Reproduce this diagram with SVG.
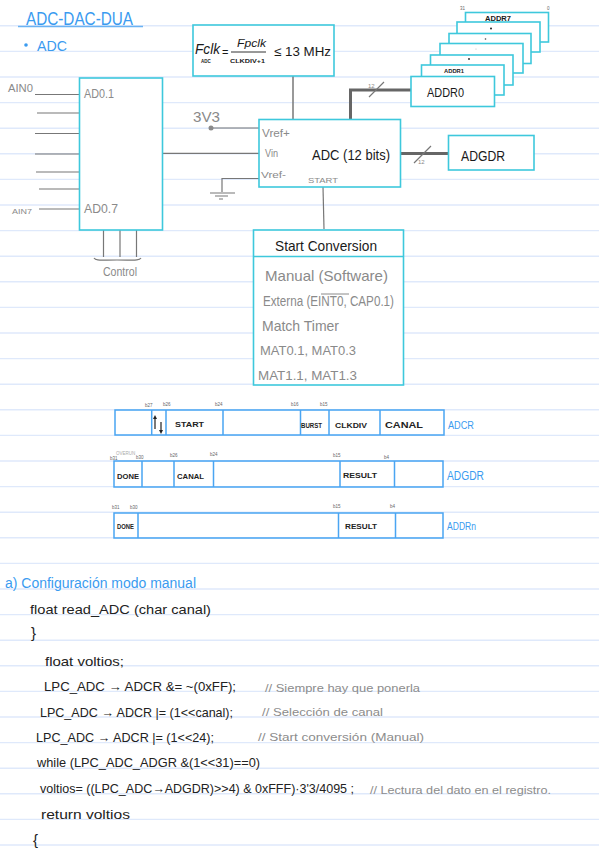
<svg xmlns="http://www.w3.org/2000/svg" width="599" height="848" viewBox="0 0 599 848">
<style>
text{font-family:"Liberation Sans",Arial,sans-serif;font-size:13px;fill:#1a1a1a}
.rule{stroke:#dfe9fb;stroke-width:1.4;fill:none}
.box{fill:#fff;stroke:#3ec8dc;stroke-width:1.6}
.reg{fill:none;stroke:#4aa5f2;stroke-width:1.5}
.w{stroke:#777;stroke-width:1.2;fill:none}
.t{stroke:#666;stroke-width:3;fill:none}
.g{fill:#8a8a8a}
.b{fill:#3a9bf0}
.s{font-size:7px;font-weight:bold;fill:#222}
.n{font-size:4.5px;fill:#666}
.c{font-size:13px;fill:#222}
.k{font-size:11px;fill:#8c8c8c}
</style>
<rect width="599" height="848" fill="#fff"/>
<g id="rules">
<path class="rule" d="M0 25.8H599M0 51.4H599M0 77H599M0 102.6H599M0 128.2H599M0 153.8H599M0 179.4H599M0 205H599M0 230.6H599M0 256.2H599M0 281.8H599M0 307.4H599M0 333H599M0 358.6H599M0 384.2H599M0 409.8H599M0 435.4H599M0 461H599M0 486.6H599M0 512.2H599M0 537.8H599M0 563.4H599M0 589H599M0 614.6H599M0 640.2H599M0 665.8H599M0 691.4H599M0 717H599M0 742.6H599M0 768.2H599M0 793.8H599M0 819.4H599M0 845H599"/>
</g>
<g id="heading">
<text class="b" x="26" y="25" style="font-size:18px" textLength="107" lengthAdjust="spacingAndGlyphs">ADC-DAC-DUA</text>
<path d="M18 26.5H143" stroke="#6ab2f3" stroke-width="1.5"/>
<circle cx="26" cy="45" r="1.8" fill="#3a9bf0"/>
<text class="b" x="37" y="51" style="font-size:15px" textLength="30" lengthAdjust="spacingAndGlyphs">ADC</text>
</g>
<g id="connectors">
<path class="w" d="M35 94.5H80M37 113H80M35 133.5H80M35 154H80M36 172H80M39 189H80M39 209H80"/>
<path class="w" d="M103.500 230V257M120 230V257M136.500 230V257"/>
<path class="w" d="M94 258C96 261 100 260 117 260C134 260 139 261 141 258"/>
<path class="w" d="M162 153.300H260"/>
<path class="w" d="M211 128H259"/>
<path class="w" d="M259 178.500H222V192M210 193H235M215 196H228M219 199H223"/>
<path class="w" style="stroke-width:1.5" d="M293 76V119"/>
<path class="w" d="M323 187L324 229"/>
<path class="t" d="M350.500 119V90H411"/>
<path class="t" d="M400 153.500H448"/>
<path class="w" d="M369 97L384 82M414 163L431 146"/>
<circle cx="211" cy="128" r="2.500" fill="#8a8a8a"/>
</g>
<g id="mux">
<rect class="box" x="79.500" y="78" width="83" height="152"/>
<text class="g" x="84" y="98" textLength="30" lengthAdjust="spacingAndGlyphs">AD0.1</text>
<text class="g" x="84" y="213" textLength="34" lengthAdjust="spacingAndGlyphs">AD0.7</text>
<text class="g" x="8" y="92" style="font-size:11px" textLength="25" lengthAdjust="spacingAndGlyphs">AIN0</text>
<text class="g" x="12" y="214" style="font-size:8px" textLength="20" lengthAdjust="spacingAndGlyphs">AIN7</text>
<text class="g" x="103" y="276" style="font-size:12px" textLength="34" lengthAdjust="spacingAndGlyphs">Control</text>
</g>
<g id="formula">
<rect class="box" x="193" y="25" width="141" height="51"/>
<text x="195" y="54" style="font-size:14px;font-style:italic" textLength="25" lengthAdjust="spacingAndGlyphs">Fclk</text>
<text x="201" y="63" style="font-size:4.500px;font-weight:bold">ADC</text>
<text x="222" y="56" style="font-size:11px">=</text>
<text x="237" y="47" style="font-size:11px;font-style:italic" textLength="29" lengthAdjust="spacingAndGlyphs">Fpclk</text>
<path d="M231 52H266" stroke="#333"/>
<text x="230" y="63" style="font-size:6px;font-weight:bold" textLength="35" lengthAdjust="spacingAndGlyphs">CLKDIV+1</text>
<text x="274" y="56" style="font-size:13px" textLength="57" lengthAdjust="spacingAndGlyphs">≤ 13 MHz</text>
</g>
<g id="adc">
<rect class="box" x="259" y="119.500" width="141.500" height="67.500"/>
<text class="g" x="262" y="137" style="font-size:11px" textLength="28" lengthAdjust="spacingAndGlyphs">Vref+</text>
<text class="g" x="265" y="157" style="font-size:11px" textLength="13" lengthAdjust="spacingAndGlyphs">Vin</text>
<text class="g" x="261" y="178" style="font-size:9px" textLength="25" lengthAdjust="spacingAndGlyphs">Vref-</text>
<text x="312" y="160" style="font-size:15px" textLength="78" lengthAdjust="spacingAndGlyphs">ADC (12 bits)</text>
<text class="g" x="308" y="183" style="font-size:8px" textLength="30" lengthAdjust="spacingAndGlyphs">START</text>
</g>
<text id="vref-label" class="g" x="193" y="122" style="font-size:14px" textLength="27" lengthAdjust="spacingAndGlyphs">3V3</text>
<text class="g" x="368" y="88" style="font-size:6px">12</text>
<text class="g" x="418" y="164" style="font-size:6px">12</text>
<g id="addr-stack">
<rect class="box" x="465.500" y="12.500" width="83" height="29.500"/>
<rect class="box" x="457" y="22" width="83" height="30"/>
<rect class="box" x="449" y="33.500" width="82" height="30"/>
<rect class="box" x="440" y="43.500" width="83" height="29.500"/>
<rect class="box" x="430.500" y="55" width="82.500" height="30"/>
<rect class="box" x="421.500" y="65" width="82.500" height="30"/>
<rect class="box" x="411" y="76.500" width="83.500" height="30"/>
<text class="n" x="460" y="10">31</text><text class="n" x="547" y="10">0</text>
<text x="485" y="21" style="font-size:7px;font-weight:bold" textLength="26" lengthAdjust="spacingAndGlyphs">ADDR7</text>
<text x="444" y="73" style="font-size:6px;font-weight:bold" textLength="20" lengthAdjust="spacingAndGlyphs">ADDR1</text>
<circle cx="491" cy="28.500" r="1" fill="#222"/><circle cx="485.500" cy="39" r=".8" fill="#444"/><circle cx="476" cy="49" r=".6" fill="#bbb"/><circle cx="469" cy="59" r=".9" fill="#222"/>
<text x="427" y="97" style="font-size:13px" textLength="37" lengthAdjust="spacingAndGlyphs">ADDR0</text>
</g>
<g id="adgdr">
<rect class="box" x="448.500" y="135.500" width="85.500" height="34.500"/>
<text x="461" y="161" style="font-size:15px" textLength="44" lengthAdjust="spacingAndGlyphs">ADGDR</text>
</g>
<g id="start-conversion">
<rect class="box" x="253.500" y="230" width="150" height="155"/>
<path d="M253.500 256.500H403.500" stroke="#3ec8dc" stroke-width="1.600"/>
<text x="275" y="251" style="font-size:15px" textLength="102" lengthAdjust="spacingAndGlyphs">Start Conversion</text>
<text class="g" x="265" y="281" style="font-size:15px" textLength="123" lengthAdjust="spacingAndGlyphs">Manual (Software)</text>
<text class="g" x="263" y="306" style="font-size:14px" textLength="131" lengthAdjust="spacingAndGlyphs">Externa (EINT0, CAP0.1)</text>
<path d="M321 294H349" stroke="#8a8a8a"/>
<text class="g" x="262" y="331" style="font-size:15px" textLength="77" lengthAdjust="spacingAndGlyphs">Match Timer</text>
<text class="g" x="260" y="355" style="font-size:13px" textLength="96" lengthAdjust="spacingAndGlyphs">MAT0.1, MAT0.3</text>
<text class="g" x="258" y="380" style="font-size:13px" textLength="99" lengthAdjust="spacingAndGlyphs">MAT1.1, MAT1.3</text>
</g>
<g id="reg-adcr">
<rect class="reg" x="115" y="410" width="329" height="25"/>
<path class="reg" d="M151.700 410V435M166 410V435M223 410V435M300.500 410V435M329 410V435M380 410V435"/>
<path d="M155 418V429M161 422V432" stroke="#222" stroke-width="1.200"/>
<path d="M155 415l-2 4h4zM161 434l-2 -4h4z" fill="#222"/>
<text class="s" x="175" y="427" textLength="29" lengthAdjust="spacingAndGlyphs">START</text>
<text class="s" x="301" y="428" textLength="21" lengthAdjust="spacingAndGlyphs">BURST</text>
<text class="s" x="335" y="428" textLength="32" lengthAdjust="spacingAndGlyphs">CLKDIV</text>
<text class="s" x="385" y="428" style="font-size:9px" textLength="38" lengthAdjust="spacingAndGlyphs">CANAL</text>
<text class="b" x="448" y="429" style="font-size:10px" textLength="26" lengthAdjust="spacingAndGlyphs">ADCR</text>
<text class="n" x="145" y="407">b27</text><text class="n" x="163" y="406">b26</text><text class="n" x="215" y="406">b24</text><text class="n" x="291" y="406">b16</text><text class="n" x="320" y="406">b15</text>
</g>
<g id="reg-adgdr">
<rect class="reg" x="114" y="461" width="329" height="26"/>
<path class="reg" d="M142 461V487M174 461V487M213.500 461V487M340 461V487M394.500 461V487"/>
<text class="s" x="117" y="479" textLength="22" lengthAdjust="spacingAndGlyphs">DONE</text>
<text class="s" x="177" y="479" style="font-size:8px" textLength="27" lengthAdjust="spacingAndGlyphs">CANAL</text>
<text class="s" x="343" y="478" textLength="34" lengthAdjust="spacingAndGlyphs">RESULT</text>
<text class="b" x="447" y="480" style="font-size:12px" textLength="37" lengthAdjust="spacingAndGlyphs">ADGDR</text>
<text class="n" x="110" y="460">b31</text><text class="n" x="116" y="455" style="fill:#aaa">OVERUN</text><text class="n" x="136" y="459">b30</text><text class="n" x="170" y="457">b26</text><text class="n" x="210" y="456">b24</text><text class="n" x="333" y="457">b15</text><text class="n" x="384" y="459">b4</text>
</g>
<g id="reg-addrn">
<rect class="reg" x="114" y="513" width="329" height="25"/>
<path class="reg" d="M138 513V538M338.500 513V538M395.500 513V538"/>
<text class="s" x="117" y="529" textLength="17" lengthAdjust="spacingAndGlyphs">DONE</text>
<text class="s" x="345" y="529" textLength="32" lengthAdjust="spacingAndGlyphs">RESULT</text>
<text class="b" x="447" y="530" style="font-size:10px" textLength="29" lengthAdjust="spacingAndGlyphs">ADDRn</text>
<text class="n" x="112" y="509">b31</text><text class="n" x="130" y="509">b30</text><text class="n" x="333" y="508">b15</text><text class="n" x="390" y="508">b4</text>
</g>
<g id="code">
<text class="b" x="5" y="588" style="font-size:14px" textLength="191" lengthAdjust="spacingAndGlyphs">a) Configuración modo manual</text>
<text class="c" x="30" y="614" textLength="181" lengthAdjust="spacingAndGlyphs">float read_ADC (char canal)</text>
<text class="c" x="31" y="638" style="font-size:15px">}</text>
<text class="c" x="45" y="666" textLength="79" lengthAdjust="spacingAndGlyphs">float voltios;</text>
<text class="c" x="44" y="691" textLength="192" lengthAdjust="spacingAndGlyphs">LPC_ADC → ADCR &amp;= ~(0xFF);</text>
<text class="c" x="40" y="717" textLength="193" lengthAdjust="spacingAndGlyphs">LPC_ADC → ADCR |= (1&lt;&lt;canal);</text>
<text class="c" x="36" y="742" textLength="178" lengthAdjust="spacingAndGlyphs">LPC_ADC → ADCR |= (1&lt;&lt;24);</text>
<text class="c" x="37" y="767" textLength="223" lengthAdjust="spacingAndGlyphs">while (LPC_ADC_ADGR &amp;(1&lt;&lt;31)==0)</text>
<text class="c" x="40" y="793" textLength="314" lengthAdjust="spacingAndGlyphs">voltios= ((LPC_ADC→ADGDR)&gt;&gt;4) &amp; 0xFFF)·3'3/4095 ;</text>
<text class="c" x="41" y="819" textLength="89" lengthAdjust="spacingAndGlyphs">return voltios</text>
<text class="c" x="33" y="845" style="font-size:15px">{</text>
<text class="k" x="265" y="692" textLength="155" lengthAdjust="spacingAndGlyphs">// Siempre hay que ponerla</text>
<text class="k" x="262" y="716" textLength="121" lengthAdjust="spacingAndGlyphs">// Selección de canal</text>
<text class="k" x="258" y="741" textLength="166" lengthAdjust="spacingAndGlyphs">// Start conversión (Manual)</text>
<text class="k" x="370" y="794" textLength="181" lengthAdjust="spacingAndGlyphs">// Lectura del dato en el registro.</text>
</g>
</svg>
